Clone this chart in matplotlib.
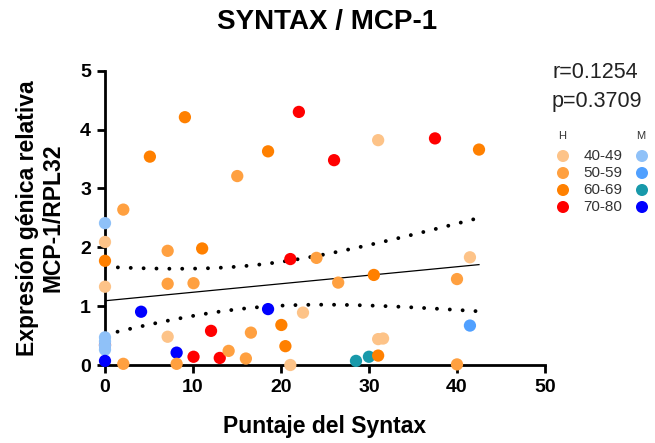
import numpy as np
import matplotlib
matplotlib.use("Agg")
import matplotlib.pyplot as plt

plt.rcParams['font.family'] = ['Liberation Sans', 'DejaVu Sans']

# colours per group (H = hombres, M = mujeres)
age_groups = ['40-49', '50-59', '60-69', '70-80']
colors_H = ['#FDC388', '#FFA040', '#FF8000', '#FF0000']
colors_M = ['#8FC1F8', '#50A0FF', '#1899AA', '#0000FF']

# data: (syntax, expression, group key)
syntax = [0, 0, 0, 0, 0, 0, 0, 0, 0, 0,
          2.08, 2.08, 5.1, 4.1, 7.12, 7.12, 7.12, 8.14, 8.14, 9.08,
          10.06, 10.06, 11.04, 12.05, 13.04, 14.05, 15.03, 16.01, 16.58, 18.53,
          18.53, 20.04, 20.5, 21.06, 21.06, 22.03, 22.5, 24.03, 26.03, 26.5,
          28.52, 29.99, 30.55, 31.04, 31.04, 31.6, 31.04, 37.5, 40.0, 40.0,
          41.47, 41.47, 42.5]
expr = [2.41, 2.09, 1.77, 1.33, 0.34, 0.47, 0.40, 0.33, 0.26, 0.07,
        2.64, 0.02, 3.54, 0.905, 1.94, 1.38, 0.48, 0.21, 0.02, 4.21,
        1.39, 0.14, 1.98, 0.58, 0.12, 0.24, 3.21, 0.11, 0.55, 0.95,
        3.63, 0.68, 0.32, 0.0, 1.80, 4.30, 0.89, 1.82, 3.48, 1.40,
        0.07, 0.14, 1.53, 0.16, 0.44, 0.45, 3.82, 3.85, 1.46, 0.01,
        1.83, 0.67, 3.66]
group = ['M0', 'H0', 'H2', 'H0', 'H3', 'M0', 'M0', 'M0', 'M0', 'M3',
         'H1', 'H1', 'H2', 'M3', 'H1', 'H1', 'H0', 'M3', 'H1', 'H2',
         'H1', 'H3', 'H2', 'H3', 'H3', 'H1', 'H1', 'H1', 'H1', 'M3',
         'H2', 'H2', 'H2', 'H0', 'H3', 'H3', 'H0', 'H1', 'H3', 'H1',
         'M2', 'M2', 'H2', 'H2', 'H0', 'H0', 'H0', 'H3', 'H1', 'H1',
         'H0', 'M1', 'H2']

x = np.array(syntax)
y = np.array(expr)
n = len(x)

def col(g):
    pal = colors_H if g[0] == 'H' else colors_M
    return pal[int(g[1])]

# linear fit with 95% confidence band
slope, intercept = np.polyfit(x, y, 1)
xm = x.mean()
sxx = np.sum((x - xm) ** 2)
resid = y - (intercept + slope * x)
s = np.sqrt(np.sum(resid ** 2) / (n - 2))
t975 = 2.008
xf = np.linspace(x.min(), x.max(), 100)
yf = intercept + slope * xf
half = t975 * s * np.sqrt(1.0 / n + (xf - xm) ** 2 / sxx)

fig = plt.figure(figsize=(6.55, 4.43), dpi=100)
ax = fig.add_axes([105 / 655, 1 - 365 / 443, 440 / 655, (365 - 70.7) / 443])

ax.plot(xf, yf, color='black', lw=0.9, zorder=2)
for band in (yf + half, yf - half):
    ax.plot(xf, band, color='black', lw=2.8, linestyle=(0, (0.01, 3.3)),
            dash_capstyle='round', zorder=2)

ax.scatter(x, y, s=78, c=[col(g) for g in group], edgecolors='none',
           zorder=5, clip_on=False)

ax.set_xlim(0, 50)
ax.set_ylim(0, 5)
ax.set_xticks([0, 10, 20, 30, 40, 50])
ax.set_yticks([0, 1, 2, 3, 4, 5])
for side in ('top', 'right'):
    ax.spines[side].set_visible(False)
for side in ('left', 'bottom'):
    ax.spines[side].set_linewidth(2.0)
ax.tick_params(width=2.0, length=6, labelsize=14, pad=4)
for lab in ax.get_xticklabels() + ax.get_yticklabels():
    lab.set_fontweight('bold')

ax.set_xlabel('Puntaje del Syntax', fontsize=16.5, fontweight='bold', labelpad=14)
ax.set_ylabel('Expresión génica relativa\nMCP-1/RPL32', fontsize=16.5,
              fontweight='bold', labelpad=11, linespacing=1.15)
fig.text(0.5, 1 - 22 / 443, 'SYNTAX / MCP-1', ha='center', va='center',
         fontsize=20, fontweight='bold')

fig.text(552 / 655, 1 - 73 / 443, 'r=0.1254', fontsize=15.5, va='center', color='#222222')
fig.text(552 / 655, 1 - 101 / 443, 'p=0.3709', fontsize=15.5, va='center', color='#222222')

# legend drawn in pixel coordinates
lg = fig.add_axes([540 / 655, 1 - 220 / 443, 115 / 655, 100 / 443])
lg.set_xlim(540, 655)
lg.set_ylim(220, 120)
lg.axis('off')
lg.text(558, 136, 'H', fontsize=8, va='center', color='#333333')
lg.text(636, 136, 'M', fontsize=8, va='center', color='#333333')
for i, lab in enumerate(age_groups):
    yy = 156 + 17 * i
    lg.scatter([563], [yy], s=75, color=colors_H[i], edgecolors='none')
    lg.scatter([642], [yy], s=75, color=colors_M[i], edgecolors='none')
    lg.text(603, yy, lab, fontsize=11, ha='center', va='center', color='#333333')

fig.savefig('out.png', dpi=100)
